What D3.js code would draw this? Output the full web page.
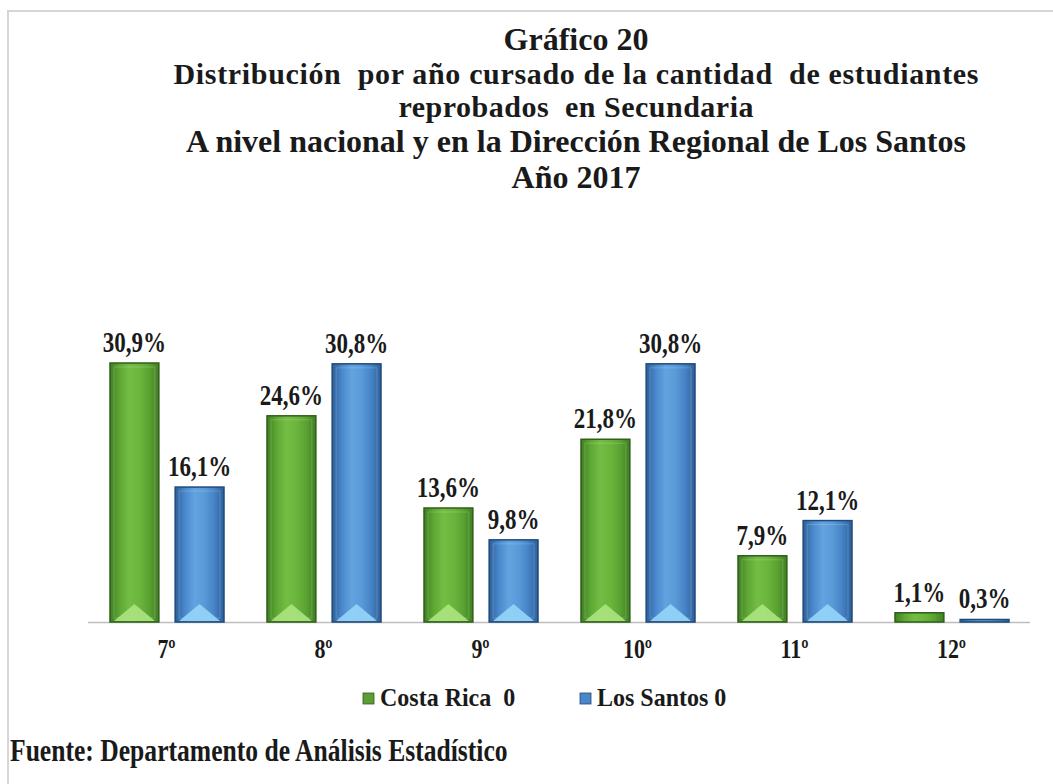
<!DOCTYPE html>
<html><head><meta charset="utf-8">
<script src="https://cdn.jsdelivr.net/npm/d3@7"></script>
<style>body{margin:0;background:#fff}svg{display:block}</style>
</head><body>
<script>
const categories = ["7º","8º","9º","10º","11º","12º"];
const costaRica = [30.9, 24.6, 13.6, 21.8, 7.9, 1.1];
const losSantos = [16.1, 30.8, 9.8, 30.8, 12.1, 0.3];
const seriesNames = ["Costa Rica  0","Los Santos 0"];
const titleLines = ["Gráfico 20","Distribución  por año cursado de la cantidad  de estudiantes","reprobados  en Secundaria","A nivel nacional y en la Dirección Regional de Los Santos","Año 2017"];
const sourceText = "Fuente: Departamento de Análisis Estadístico";

const W=1053,H=784;
const svg=d3.select("body").append("svg").attr("width",W).attr("height",H);
const font="Liberation Serif, Tinos, Times New Roman, serif";

svg.append("path").attr("d",`M8,${H} L8,11 L${W},11`).attr("fill","none").attr("stroke","#d6d6d6").attr("stroke-width",2);

const defs=svg.append("defs");
function grad(id,c){
  const g=defs.append("linearGradient").attr("id",id).attr("x1","0").attr("x2","1").attr("y1","0").attr("y2","0");
  c.forEach((col,i)=>g.append("stop").attr("offset",(i/(c.length-1)*100)+"%").attr("stop-color",col));
}
grad("gGreen",["#3f7f22","#5ea834","#74bd45","#6cb53d","#5aa331","#3f7f22"]);
grad("gBlue",["#2c5f98","#4a88cc","#62a3e0","#5a9ad8","#4683c6","#2c5f98"]);

const x0=d3.scaleBand().domain(categories).range([88,1030]).paddingInner(0).paddingOuter(0);
const keys=["cr","ls"];
const x1=d3.scaleBand().domain(keys).range([22,136]).paddingInner(0.25);
const y=d3.scaleLinear().domain([0,30.9]).range([622,363]);

const data=categories.map((c,i)=>({cat:c,vals:[{k:"cr",v:costaRica[i]},{k:"ls",v:losSantos[i]}]}));
const fills={cr:"url(#gGreen)",ls:"url(#gBlue)"};
const strokes={cr:"#2f5f18",ls:"#1f4a7a"};
const tri={cr:"#a8e27c",ls:"#92d2f7"};
const legendCol={cr:"#5c9e35",ls:"#4a86c8"};

svg.append("line").attr("x1",88).attr("x2",1030).attr("y1",622.5).attr("y2",622.5).attr("stroke","#bdbdbd").attr("stroke-width",1.5);

const g=svg.selectAll("g.grp").data(data).enter().append("g").attr("transform",d=>`translate(${x0(d.cat)},0)`);
const bars=g.selectAll("g.bar").data(d=>d.vals).enter().append("g");
bars.append("rect").attr("x",d=>x1(d.k)).attr("y",d=>y(d.v)).attr("width",x1.bandwidth()).attr("height",d=>Math.max(0,y(0)-y(d.v)))
  .attr("fill",d=>fills[d.k]).attr("stroke",d=>strokes[d.k]).attr("stroke-width",1.5);
bars.filter(d=>y(0)-y(d.v)>30).append("rect").attr("x",d=>x1(d.k)+4).attr("y",d=>y(d.v)+4).attr("width",x1.bandwidth()-8).attr("height",d=>y(0)-y(d.v)-8)
  .attr("fill","none").attr("stroke","rgba(255,255,255,0.18)").attr("stroke-width",1);
bars.filter(d=>y(0)-y(d.v)>30).append("path").attr("d",d=>{const bx=x1(d.k),bw=x1.bandwidth(),by=y(0);return `M${bx+4},${by-1} L${bx+bw/2},${by-18} L${bx+bw-4},${by-1} Z`;})
  .attr("fill",d=>tri[d.k]).attr("opacity",0.95);

function stretchedText(sel,x,yy,txt,size,sy,anchor){
  return sel.append("text").attr("transform",`translate(${x},${yy}) scale(1,${sy})`).attr("text-anchor",anchor||"middle")
    .attr("font-family",font).attr("font-weight","bold").attr("font-size",size).attr("fill","#1a1a1a").text(txt);
}
bars.each(function(d){
  const sel=d3.select(this);
  const lbl=d.v.toFixed(1).replace(".",",")+"%";
  stretchedText(sel,x1(d.k)+x1.bandwidth()/2,y(d.v)-11,lbl,23,1.25);
});

categories.forEach(c=>stretchedText(svg,x0(c)+x0.bandwidth()/2,658,c,22,1.2));

const tLayout=[
  {y:50,fs:32},
  {y:84,fs:30,w:805,adj:"spacing"},
  {y:117,fs:30,w:355,adj:"spacing"},
  {y:152,fs:32},
  {y:188,fs:32}
];
titleLines.forEach((t,i)=>{
  const L=tLayout[i];
  const tx=stretchedText(svg,576,L.y,t,L.fs,1).style("white-space","pre");
  if(L.w) tx.attr("textLength",L.w).attr("lengthAdjust",L.adj);
});

const leg=[{k:"cr",x:363},{k:"ls",x:580}];
leg.forEach((l,i)=>{
  svg.append("rect").attr("x",l.x).attr("y",693).attr("width",11).attr("height",11).attr("fill",legendCol[l.k]).attr("stroke",strokes[l.k]).attr("stroke-width",0.8);
  stretchedText(svg,l.x+17,706,seriesNames[i],24,1.05,"start").style("white-space","pre");
});

stretchedText(svg,10,761,sourceText,25.6,1.22,"start");
</script>
</body></html>
